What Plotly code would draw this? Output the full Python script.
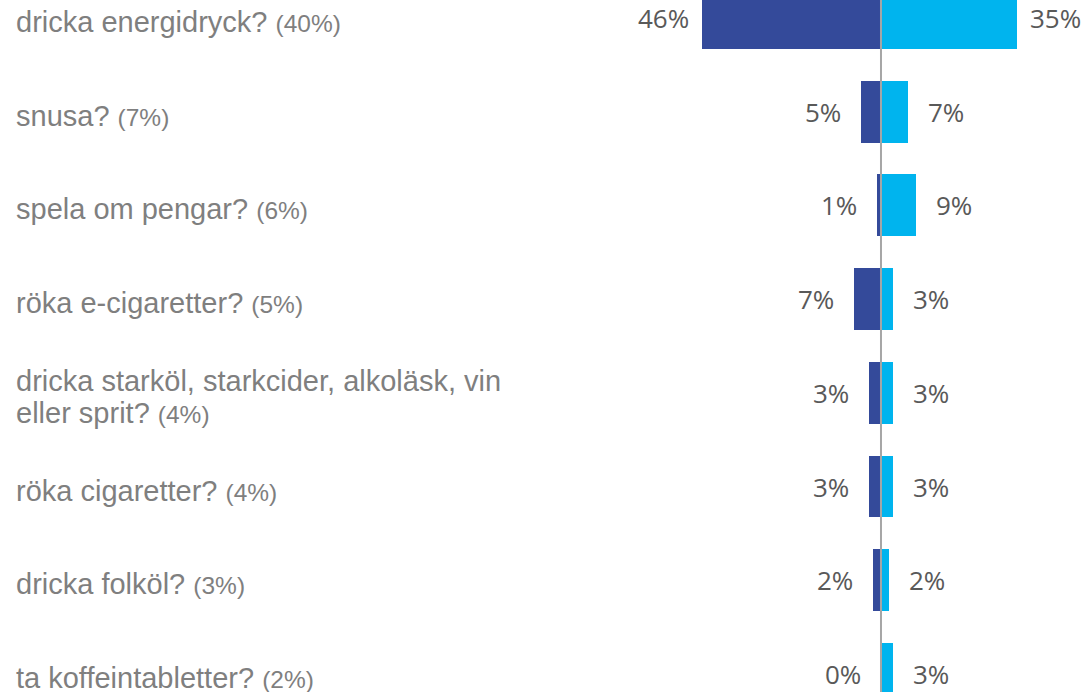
import plotly.graph_objects as go

categories = [
    "dricka energidryck?",
    "snusa?",
    "spela om pengar?",
    "röka e-cigaretter?",
    "dricka starköl, starkcider, alkoläsk, vin\neller sprit?",
    "röka cigaretter?",
    "dricka folköl?",
    "ta koffeintabletter?",
]
overall = ["40%", "7%", "6%", "5%", "4%", "4%", "3%", "2%"]
left_values = [46, 5, 1, 7, 3, 3, 2, 0]
right_values = [35, 7, 9, 3, 3, 3, 2, 3]

DARK = "#344A9A"
LIGHT = "#00B4EE"
LABEL_GRAY = "#7F7F7F"
VALUE_GRAY = "#595959"

ys = list(range(len(categories)))

fig = go.Figure()
fig.add_trace(go.Bar(
    y=ys, x=[-v for v in left_values], orientation="h",
    marker=dict(color=DARK, line=dict(width=0)), width=0.66,
    hoverinfo="skip", showlegend=False,
))
fig.add_trace(go.Bar(
    y=ys, x=right_values, orientation="h",
    marker=dict(color=LIGHT, line=dict(width=0)), width=0.66,
    hoverinfo="skip", showlegend=False,
))

annotations = []
for i, (lv, rv) in enumerate(zip(left_values, right_values)):
    annotations.append(dict(
        x=-lv, y=i, xref="x", yref="y", text=f"{lv}%", showarrow=False,
        xanchor="center", yanchor="middle", xshift=-38,
        font=dict(family="Open Sans", size=26, color=VALUE_GRAY),
    ))
    annotations.append(dict(
        x=rv, y=i, xref="x", yref="y", text=f"{rv}%", showarrow=False,
        xanchor="center", yanchor="middle", xshift=38,
        font=dict(family="Open Sans", size=26, color=VALUE_GRAY),
    ))

for i, (cat, pct) in enumerate(zip(categories, overall)):
    lines = cat.split("\n")
    n = len(lines)
    for k, line in enumerate(lines):
        txt = line
        if k == n - 1:
            txt = f'{line} <span style="font-size:24.5px">({pct})</span>'
        annotations.append(dict(
            x=0.0129, y=i, xref="paper", yref="y", text=txt, showarrow=False,
            xanchor="left", yanchor="middle",
            yshift=-((k - (n - 1) / 2) * 32) - 4,
            font=dict(family="Liberation Sans, Arial", size=29, color=LABEL_GRAY),
        ))

fig.update_layout(
    width=1088, height=692,
    margin=dict(l=0, r=0, t=0, b=0),
    paper_bgcolor="white", plot_bgcolor="white",
    barmode="overlay", bargap=0,
    xaxis=dict(range=[-225.9, 53.08], visible=False, fixedrange=True),
    yaxis=dict(range=[7.193, -0.192], visible=False, fixedrange=True),
    annotations=annotations,
    shapes=[dict(type="line", xref="x", yref="paper", x0=0, x1=0, y0=0, y1=1,
                 line=dict(color="#A6A6A6", width=2), layer="above")],
)

fig.write_html(
    "out.html",
    config={"displayModeBar": False},
    post_script="document.body.style.margin='0';document.body.style.overflow='hidden';",
)
